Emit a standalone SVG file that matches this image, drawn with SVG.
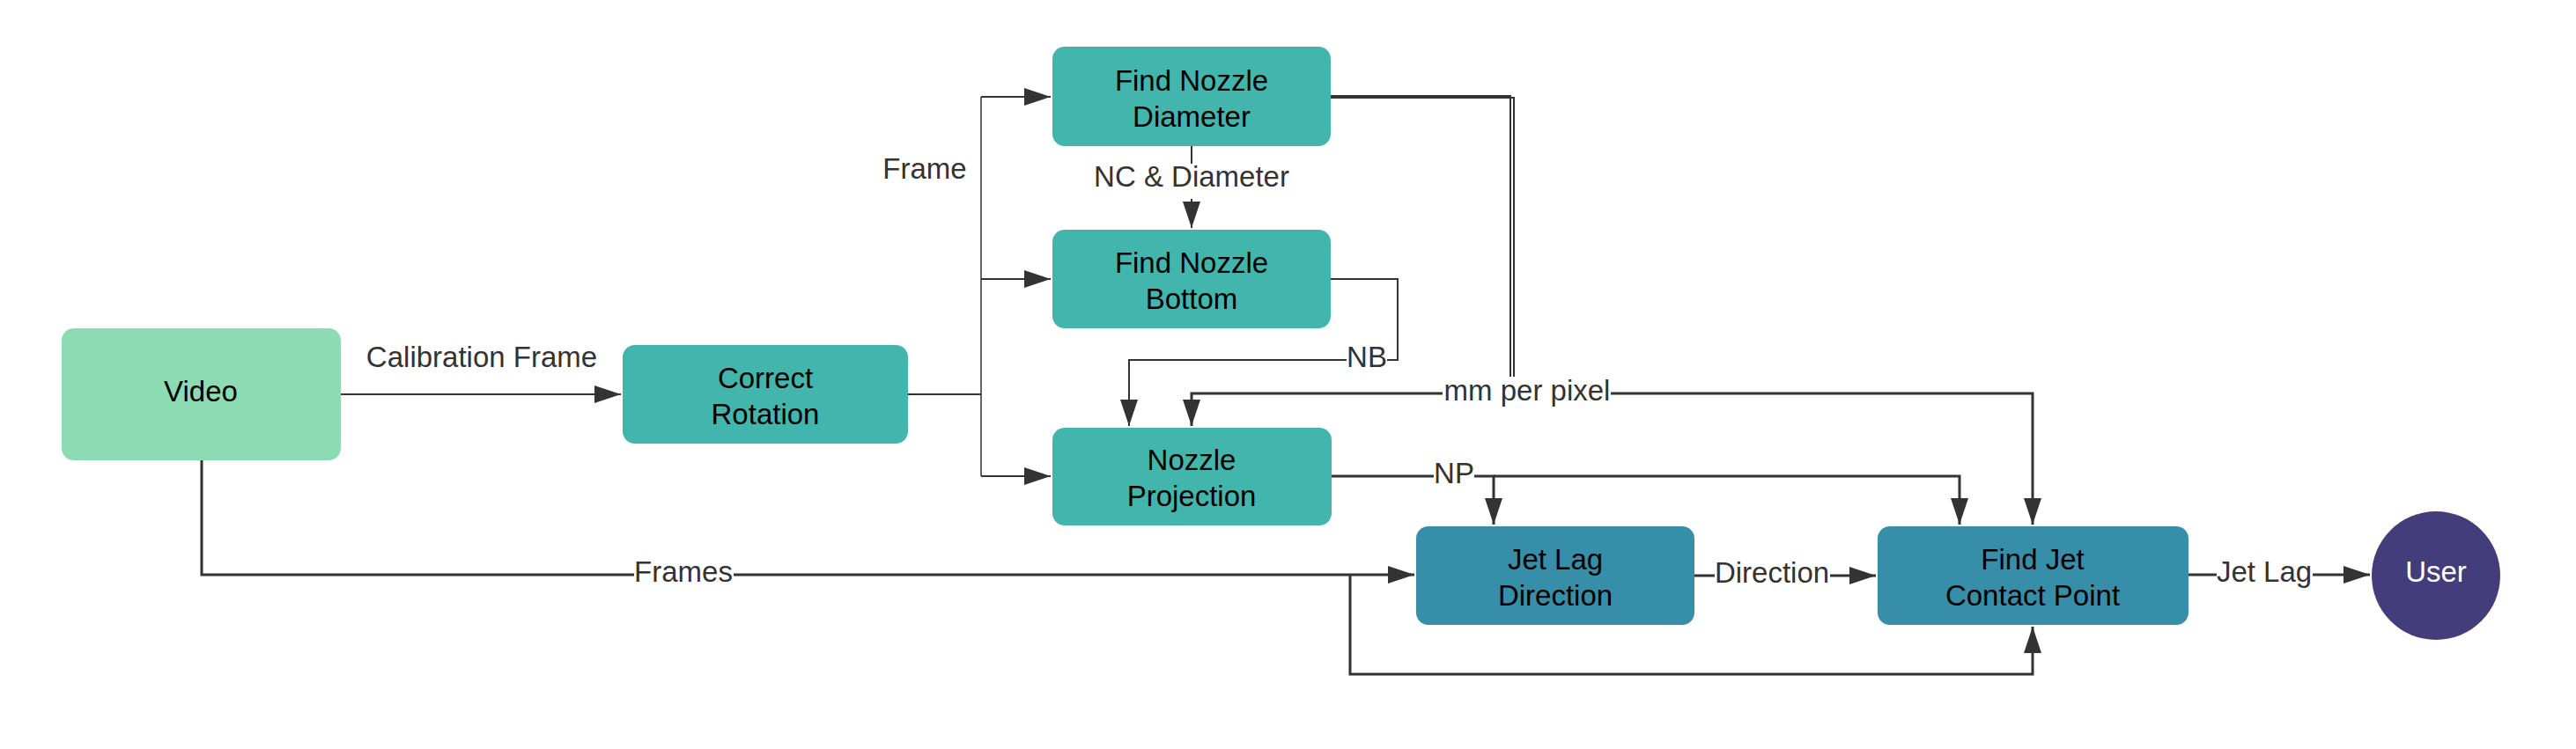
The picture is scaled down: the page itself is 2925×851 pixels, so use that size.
<svg xmlns="http://www.w3.org/2000/svg" width="2925" height="851" viewBox="0 0 2925 851">
<style>
  .conn { fill: none; stroke: #333333; stroke-width: 3; }
  .thin { stroke-width: 2; }
  .hair { stroke-width: 1.5; }
  .arrow { marker-end: url(#ah); }
  .lbl { font-family: "Liberation Sans", Arial, sans-serif; font-size: 33px; fill: #333333; text-anchor: middle; }
  .lblbg { fill: #ffffff; }
  .ntxt { font-family: "Liberation Sans", Arial, sans-serif; font-size: 33px; fill: #000000; text-anchor: middle; }
  .green { fill: #8cdbb2; }
  .teal { fill: #42b6ac; }
  .blue { fill: #368ea8; }
  .purple { fill: #433e7b; }
</style>
<defs>
  <marker id="ah" markerUnits="userSpaceOnUse" markerWidth="30" markerHeight="20" refX="30" refY="10" orient="auto">
    <path d="M0,0 L30,10 L0,20 z" fill="#333333"/>
  </marker>
</defs>
<rect width="2925" height="851" fill="#ffffff"/>

<g id="connectors">
  <!-- Video -> Correct Rotation -->
  <path class="conn thin arrow" d="M387,448 L705,448"/>
  <!-- Correct Rotation -> three nozzle nodes -->
  <path class="conn thin" d="M1031,448 L1114,448"/>
  <path class="conn hair" d="M1114,110 L1114,541"/>
  <path class="conn thin arrow" d="M1114,110 L1193,110"/>
  <path class="conn thin arrow" d="M1114,317 L1193,317"/>
  <path class="conn thin arrow" d="M1114,541 L1193,541"/>
  <!-- Diameter -> Bottom -->
  <path class="conn thin arrow" d="M1353,166 L1353,259"/>
  <!-- Bottom -> Projection (NB) -->
  <path class="conn thin arrow" d="M1511,317 L1587,317 L1587,409 L1282,409 L1282,484"/>
  <!-- Diameter -> Projection (mm per pixel) -->
  <path class="conn thin" d="M1511,109 L1715,109 L1715,447"/>
  <path class="conn arrow" d="M1715,447 L1353,447 L1353,484"/>
  <!-- Diameter -> Find Jet Contact Point -->
  <path class="conn thin" d="M1511,111 L1719,111 L1719,447"/>
  <path class="conn arrow" d="M1719,447 L2308,447 L2308,596"/>
  <!-- Projection -> Jet Lag Direction / Find Jet (NP) -->
  <path class="conn arrow" d="M1512,541 L1696,541 L1696,596"/>
  <path class="conn arrow" d="M1696,541 L2225,541 L2225,596"/>
  <!-- Video -> Jet Lag Direction (Frames) -->
  <path class="conn arrow" d="M229,523 L229,653 L1606,653"/>
  <!-- Frames -> Find Jet (bottom loop) -->
  <path class="conn arrow" d="M1533,653 L1533,766 L2308,766 L2308,712"/>
  <!-- Direction -->
  <path class="conn arrow" d="M1924,654 L2130,654"/>
  <!-- Jet Lag -->
  <path class="conn arrow" d="M2485,653 L2691,653"/>

  <!-- labels -->
  <text class="lbl" x="547" y="417">Calibration Frame</text>
  <text class="lbl" x="1050" y="203">Frame</text>
  <rect class="lblbg" x="1240" y="186" width="226" height="40"/>
  <text class="lbl" x="1353" y="212">NC &amp; Diameter</text>
  <rect class="lblbg" x="1529" y="392" width="46" height="34"/>
  <text class="lbl" x="1552" y="417">NB</text>
  <rect class="lblbg" x="1638" y="428" width="191" height="36"/>
  <text class="lbl" x="1734" y="455">mm per pixel</text>
  <rect class="lblbg" x="1628" y="524" width="46" height="34"/>
  <text class="lbl" x="1651" y="549">NP</text>
  <rect class="lblbg" x="720" y="636" width="113" height="34"/>
  <text class="lbl" x="776" y="661">Frames</text>
  <rect class="lblbg" x="1947" y="637" width="131" height="34"/>
  <text class="lbl" x="2012" y="662">Direction</text>
  <rect class="lblbg" x="2517" y="636" width="109" height="34"/>
  <text class="lbl" x="2571" y="661">Jet Lag</text>
</g>

<g id="video">
  <rect class="green" x="70" y="373" width="317" height="150" rx="14"/>
  <text class="ntxt" x="228" y="456">Video</text>
</g>
<g id="correct-rotation">
  <rect class="teal" x="707" y="392" width="324" height="112" rx="14"/>
  <text class="ntxt" x="869" y="441">Correct</text>
  <text class="ntxt" x="869" y="482">Rotation</text>
</g>
<g id="find-nozzle-diameter">
  <rect class="teal" x="1195" y="53" width="316" height="113" rx="14"/>
  <text class="ntxt" x="1353" y="103">Find Nozzle</text>
  <text class="ntxt" x="1353" y="144">Diameter</text>
</g>
<g id="find-nozzle-bottom">
  <rect class="teal" x="1195" y="261" width="316" height="112" rx="14"/>
  <text class="ntxt" x="1353" y="310">Find Nozzle</text>
  <text class="ntxt" x="1353" y="351">Bottom</text>
</g>
<g id="nozzle-projection">
  <rect class="teal" x="1195" y="486" width="317" height="111" rx="14"/>
  <text class="ntxt" x="1353" y="534">Nozzle</text>
  <text class="ntxt" x="1353" y="575">Projection</text>
</g>
<g id="jet-lag-direction">
  <rect class="blue" x="1608" y="598" width="316" height="112" rx="14"/>
  <text class="ntxt" x="1766" y="647">Jet Lag</text>
  <text class="ntxt" x="1766" y="688">Direction</text>
</g>
<g id="find-jet-contact-point">
  <rect class="blue" x="2132" y="598" width="353" height="112" rx="14"/>
  <text class="ntxt" x="2308" y="647">Find Jet</text>
  <text class="ntxt" x="2308" y="688">Contact Point</text>
</g>
<g id="user">
  <circle class="purple" cx="2766" cy="654" r="73"/>
  <text class="ntxt" x="2766" y="661" style="fill:#ffffff">User</text>
</g>
</svg>
